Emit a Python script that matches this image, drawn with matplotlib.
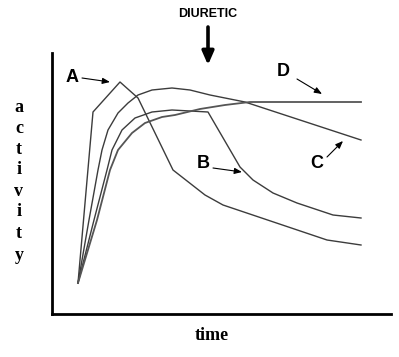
import matplotlib
matplotlib.use("Agg")
import matplotlib.pyplot as plt

# Curve values (time, activity)
A_time = [26, 41, 68, 86, 121, 153, 171, 275, 309]
A_act = [31, 202, 232, 216, 144, 119, 109, 74, 69]

B_time = [26, 42, 55, 60, 70, 83, 100, 120, 156, 188, 201, 221, 245, 281, 309]
B_act = [31, 94, 144, 164, 184, 196, 202, 204, 202, 147, 134, 121, 111, 99, 96]

C_time = [26, 37, 46, 50, 56, 66, 76, 86, 100, 120, 138, 158, 193, 309]
C_act = [31, 94, 144, 164, 184, 201, 211, 219, 224, 226, 224, 219, 212, 174]

D_time = [26, 45, 58, 66, 80, 93, 110, 123, 148, 173, 198, 309]
D_act = [31, 94, 144, 164, 181, 191, 197, 199, 205, 209, 212, 212]

W, H = 399, 357
fig = plt.figure(figsize=(W / 100, H / 100), dpi=100)
fig.patch.set_facecolor("white")
ax = fig.add_axes([52 / W, (H - 314) / H, (391 - 52) / W, (314 - 53) / H])
ax.set_xlim(0, 339)
ax.set_ylim(0, 261)
for s in ["top", "right"]:
    ax.spines[s].set_visible(False)
for s in ["left", "bottom"]:
    ax.spines[s].set_linewidth(2.0)
    ax.spines[s].set_color("black")
ax.set_xticks([])
ax.set_yticks([])

lc = "#3c3c3c"
for t, a in [(A_time, A_act), (B_time, B_act), (C_time, C_act)]:
    ax.plot(t, a, color=lc, lw=1.0, clip_on=False, solid_joinstyle="round")
ax.plot(D_time, D_act, color="#555555", lw=1.3, clip_on=False, solid_joinstyle="round")

lab = dict(fontsize=13, fontweight="bold", family="Liberation Sans",
           ha="center", va="center", color="black")
arr = dict(arrowstyle="-|>,head_length=0.45,head_width=0.18", color="black", lw=0.8,
           shrinkA=0, shrinkB=0)
ax.annotate("", xy=(58, 232), xytext=(30, 236), arrowprops=arr, annotation_clip=False)
ax.text(20, 237, "A", **lab)
ax.annotate("", xy=(190, 142), xytext=(161, 146), arrowprops=arr, annotation_clip=False)
ax.text(151, 151, "B", **lab)
ax.annotate("", xy=(291, 173), xytext=(275, 157), arrowprops=arr, annotation_clip=False)
ax.text(265, 151, "C", **lab)
ax.annotate("", xy=(270, 220), xytext=(245, 235), arrowprops=arr, annotation_clip=False)
ax.text(231, 243, "D", **lab)

# Diuretic label and arrow
ax.text(156, 300, "DIURETIC", fontsize=9, fontweight="bold", family="Liberation Sans",
        ha="center", va="center", clip_on=False)
ax.annotate("", xy=(156, 249), xytext=(156, 287),
            arrowprops=dict(arrowstyle="-|>,head_length=0.8,head_width=0.35",
                            color="black", lw=2.6, shrinkA=0, shrinkB=0),
            annotation_clip=False)

# axis labels
letters = list("activity")
ys = [108, 128, 149, 170, 191, 212, 234, 255]
for ch, yp in zip(letters, ys):
    fig.text(19 / W, 1 - yp / H, ch, fontsize=13, fontweight="bold",
             family="Liberation Serif", ha="center", va="center")
fig.text(212 / W, 1 - 336 / H, "time", fontsize=13, fontweight="bold",
         family="Liberation Serif", ha="center", va="center")

fig.savefig("out.png", dpi=100, facecolor="white")
